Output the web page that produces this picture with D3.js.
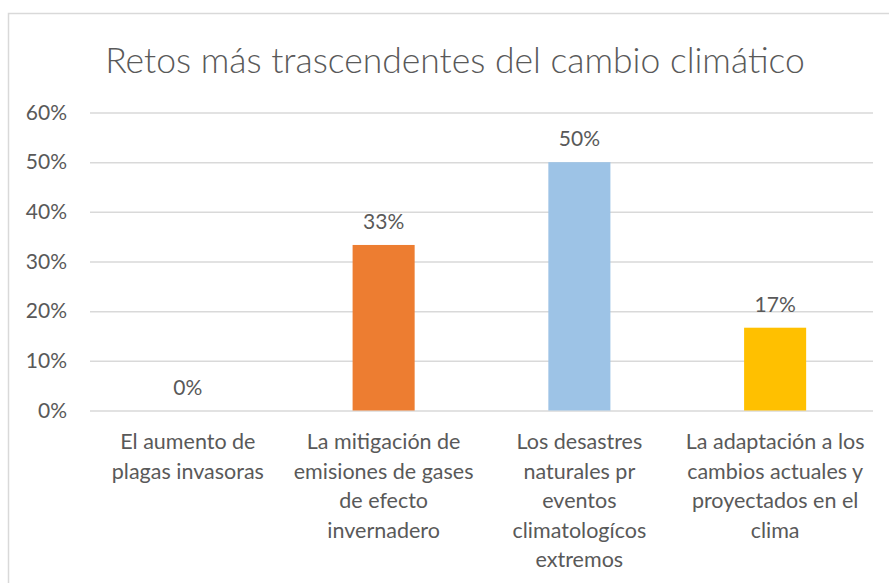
<!DOCTYPE html>
<html>
<head>
<meta charset="utf-8">
<script src="https://cdn.jsdelivr.net/npm/d3@7"></script>
<style>
  body { margin: 0; background: #fff; }
  text { font-family: Lato, "Open Sans", sans-serif; fill: #595959; }
</style>
</head>
<body>
<div id="viz"></div>
<script>
// data
var categories = [
  'El aumento de plagas invasoras',
  'La mitigación de emisiones de gases de efecto invernadero',
  'Los desastres naturales pr eventos climatologícos extremos',
  'La adaptación a los cambios actuales y proyectados en el clima'
];
var categoryLines = [
  ['El aumento de', 'plagas invasoras'],
  ['La mitigación de', 'emisiones de gases', 'de efecto', 'invernadero'],
  ['Los desastres', 'naturales pr', 'eventos', 'climatologícos', 'extremos'],
  ['La adaptación a los', 'cambios actuales y', 'proyectados en el', 'clima']
];
var values = [0, 0.3333, 0.5, 0.1667];
var valueLabels = ['0%', '33%', '50%', '17%'];
var barColors = ['#5B9BD5', '#ED7D31', '#9DC3E6', '#FFC000'];
var yTicks = [0, 0.1, 0.2, 0.3, 0.4, 0.5, 0.6];
var title = 'Retos más trascendentes del cambio climático';

var W = 889, H = 583;
var margin = { top: 112.5, right: 16, bottom: 172.5, left: 90 },
  width = W - margin.left - margin.right,
  height = H - margin.top - margin.bottom;

var svg = d3.select('#viz').append('svg')
  .attr('width', W)
  .attr('height', H);

// outer chart border (right and bottom run off the page)
svg.append('rect')
  .attr('x', 8.5)
  .attr('y', 13.5)
  .attr('width', 900)
  .attr('height', 600)
  .attr('fill', 'none')
  .attr('stroke', '#d9d9d9')
  .attr('stroke-width', 1.5);

svg.append('text')
  .attr('x', 455)
  .attr('y', 73)
  .attr('text-anchor', 'middle')
  .style('font-size', '35.5px')
  .style('font-weight', 300)
  .text(title);

var g = svg.append('g')
  .attr('transform', 'translate(' + margin.left + ',' + margin.top + ')');

var yScale = d3.scaleLinear()
  .domain([0, 0.6])
  .range([height, 0]);

var xScale = d3.scaleBand()
  .domain(categories)
  .range([0, width])
  .paddingInner(0.683)
  .paddingOuter(0.3415);

// gridlines
var yAxis = d3.axisLeft(yScale)
  .tickValues(yTicks)
  .tickFormat(d3.format('.0%'))
  .tickSize(-width)
  .tickPadding(23);

var yGuide = g.append('g').call(yAxis);
yGuide.select('.domain').remove();
yGuide.selectAll('line')
  .attr('stroke', '#d9d9d9')
  .attr('stroke-width', 1.5);
yGuide.selectAll('text')
  .style('font-size', '21px')
  .style('font-family', 'Lato, sans-serif')
  .attr('fill', '#595959');

g.selectAll('rect.bar')
  .data(values)
  .enter().append('rect')
  .attr('class', 'bar')
  .attr('x', function(d, i) { return xScale(categories[i]); })
  .attr('width', xScale.bandwidth())
  .attr('y', function(d) { return yScale(d); })
  .attr('height', function(d) { return height - yScale(d); })
  .attr('fill', function(d, i) { return barColors[i]; });

// value labels
g.selectAll('text.val')
  .data(values)
  .enter().append('text')
  .attr('class', 'val')
  .attr('x', function(d, i) { return xScale(categories[i]) + xScale.bandwidth() / 2; })
  .attr('y', function(d) { return yScale(d) - 16; })
  .attr('text-anchor', 'middle')
  .style('font-size', '21px')
  .text(function(d, i) { return valueLabels[i]; });

// category labels
var cat = g.selectAll('text.cat')
  .data(categoryLines)
  .enter().append('text')
  .attr('class', 'cat')
  .attr('text-anchor', 'middle')
  .style('font-size', '21.5px')
  .attr('transform', function(d, i) {
    return 'translate(' + (xScale(categories[i]) + xScale.bandwidth() / 2) + ',' + (height + 38.5) + ')';
  });

cat.selectAll('tspan')
  .data(function(d) { return d; })
  .enter().append('tspan')
  .attr('x', 0)
  .attr('y', function(d, j) { return j * 29.5; })
  .text(function(d) { return d; });
</script>
</body>
</html>
